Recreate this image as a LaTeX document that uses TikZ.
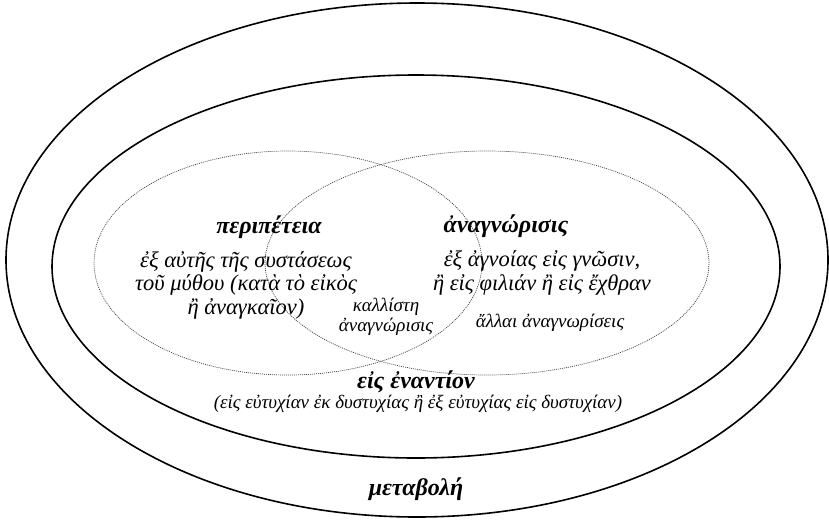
\documentclass[tikz,border=0pt]{standalone}
\usepackage{fontspec}
\setmainfont{Liberation Serif}
\tikzset{
  rim/.style={line width=1.6pt},
  zone/.style={line width=0.7pt, black!75, dash pattern=on 1pt off 1pt},
  headtext/.style={font=\fontsize{24}{26}\selectfont\bfseries\itshape},
  glosstext/.style={font=\fontsize{22.5}{23.5}\selectfont\itshape, align=center},
  minortext/.style={font=\fontsize{19}{19.5}\selectfont\itshape, align=center}
}
\begin{document}
\begin{tikzpicture}[x=1pt, y=-1pt]
  \useasboundingbox (0,0) rectangle (829,520);
  % outer and inner ellipses
  \draw[rim] (417,260) ellipse [x radius=411pt, y radius=257pt];
  \draw[rim] (416,266.5) ellipse [x radius=364pt, y radius=191.5pt];
  % the two overlapping zones
  \draw[zone] (288,263) ellipse [x radius=194pt, y radius=112pt];
  \draw[zone] (487,263) ellipse [x radius=222pt, y radius=112pt];

  \node[headtext] (peripeteia) at (269,227) {περιπέτεια};
  \node[glosstext] (peripeteiaText) at (246,285) {ἐξ αὐτῆς τῆς συστάσεως\\τοῦ μύθου (κατὰ τὸ εἰκὸς\\ἢ ἀναγκαῖον)};
  \node[minortext] (kallisti) at (386,317) {καλλίστη\\ἀναγνώρισις};
  \node[headtext] (anagnorisis) at (506,226) {ἀναγνώρισις};
  \node[glosstext] (anagnorisisText) at (542,273) {ἐξ ἀγνοίας εἰς γνῶσιν,\\ἢ εἰς φιλιάν ἢ εἰς ἔχθραν};
  \node[minortext] (allai) at (550,323) {ἄλλαι ἀναγνωρίσεις};
  \node[headtext] (enantion) at (416,382) {εἰς ἐναντίον};
  \node[minortext] (eutychia) at (418,404) {(εἰς εὐτυχίαν ἐκ δυστυχίας ἢ ἐξ εὐτυχίας εἰς δυστυχίαν)};
  \node[headtext] (metabole) at (416,489) {μεταβολή};
\end{tikzpicture}
\end{document}
